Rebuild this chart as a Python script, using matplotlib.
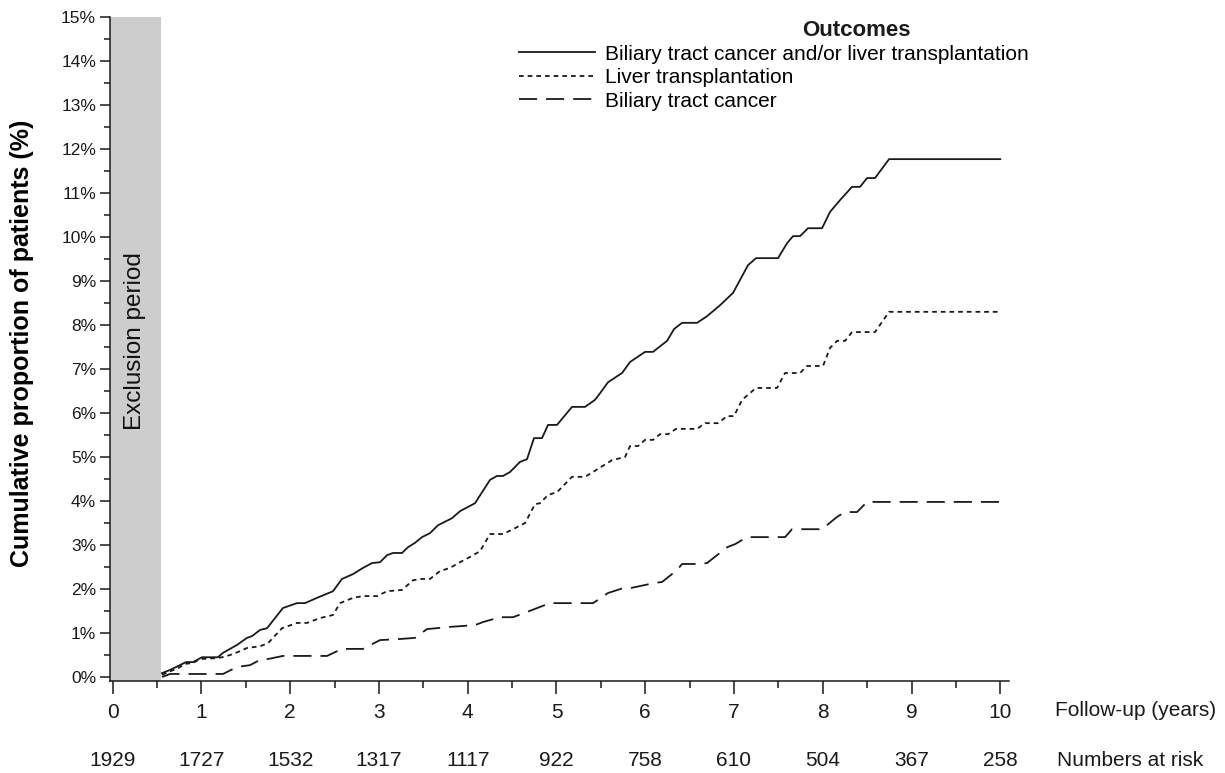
import matplotlib
matplotlib.use('Agg')
import matplotlib.pyplot as plt
from matplotlib.ticker import MultipleLocator, FuncFormatter

plt.rcParams['font.family'] = ['Liberation Sans', 'DejaVu Sans']

# cumulative incidence (%)
years_combined = [0.556, 0.646, 0.736, 0.826, 0.905, 1.006, 1.186, 1.243, 1.401, 1.513, 1.570, 1.660,
                  1.739, 1.829, 1.919, 2.020, 2.077, 2.167, 2.302, 2.482, 2.584, 2.708, 2.820, 2.922,
                  3.012, 3.091, 3.158, 3.260, 3.327, 3.406, 3.485, 3.575, 3.665, 3.823, 3.913, 4.082,
                  4.251, 4.330, 4.398, 4.477, 4.589, 4.668, 4.747, 4.837, 4.905, 5.006, 5.175, 5.322,
                  5.434, 5.491, 5.581, 5.739, 5.829, 5.998, 6.088, 6.246, 6.325, 6.415, 6.584, 6.696,
                  6.843, 6.989, 7.158, 7.248, 7.496, 7.598, 7.665, 7.744, 7.834, 7.992, 8.082, 8.195,
                  8.330, 8.420, 8.499, 8.589, 8.747, 10.0]
pct_combined = [0.09, 0.16, 0.25, 0.34, 0.34, 0.45, 0.45, 0.55, 0.73, 0.89, 0.93, 1.07,
                1.11, 1.34, 1.57, 1.64, 1.68, 1.68, 1.80, 1.95, 2.23, 2.34, 2.48, 2.59,
                2.61, 2.77, 2.82, 2.82, 2.95, 3.05, 3.18, 3.27, 3.45, 3.61, 3.77, 3.95,
                4.48, 4.57, 4.57, 4.66, 4.89, 4.95, 5.43, 5.43, 5.73, 5.73, 6.14, 6.14,
                6.30, 6.45, 6.70, 6.91, 7.16, 7.39, 7.39, 7.64, 7.91, 8.05, 8.05, 8.20,
                8.45, 8.73, 9.36, 9.52, 9.52, 9.86, 10.02, 10.02, 10.20, 10.20, 10.57, 10.84,
                11.14, 11.14, 11.34, 11.34, 11.77, 11.77]

years_lt = [0.556, 0.623, 0.736, 0.815, 0.905, 0.984, 1.175, 1.232, 1.322, 1.412, 1.513, 1.660,
            1.750, 1.908, 2.077, 2.189, 2.336, 2.482, 2.561, 2.708, 2.820, 2.978, 3.091, 3.260,
            3.384, 3.485, 3.575, 3.688, 3.801, 3.913, 4.026, 4.139, 4.251, 4.398, 4.510, 4.646,
            4.758, 4.815, 4.905, 5.006, 5.175, 5.322, 5.412, 5.626, 5.772, 5.829, 5.919, 5.998,
            6.088, 6.167, 6.257, 6.347, 6.584, 6.674, 6.820, 6.922, 7.000, 7.091, 7.248, 7.485,
            7.575, 7.744, 7.823, 8.003, 8.082, 8.161, 8.251, 8.330, 8.589, 8.747, 10.0]
pct_lt = [0.05, 0.11, 0.20, 0.30, 0.32, 0.41, 0.43, 0.45, 0.50, 0.57, 0.66, 0.70,
          0.77, 1.11, 1.23, 1.23, 1.34, 1.41, 1.68, 1.80, 1.84, 1.84, 1.95, 1.98,
          2.20, 2.23, 2.23, 2.41, 2.48, 2.61, 2.73, 2.86, 3.25, 3.25, 3.36, 3.50,
          3.93, 3.95, 4.14, 4.20, 4.55, 4.55, 4.66, 4.93, 5.00, 5.25, 5.25, 5.39,
          5.39, 5.52, 5.52, 5.64, 5.64, 5.77, 5.77, 5.93, 5.93, 6.30, 6.57, 6.57,
          6.91, 6.91, 7.07, 7.07, 7.48, 7.64, 7.64, 7.84, 7.84, 8.30, 8.30]

years_btc = [0.556, 0.646, 1.243, 1.401, 1.547, 1.660, 1.750, 1.919, 2.415, 2.584, 2.820, 3.012,
             3.203, 3.406, 3.541, 3.801, 4.082, 4.172, 4.364, 4.510, 4.668, 4.927, 5.412, 5.581,
             5.750, 5.829, 6.110, 6.189, 6.358, 6.415, 6.595, 6.696, 6.922, 7.012, 7.147, 7.575,
             7.654, 7.992, 8.161, 8.251, 8.386, 8.499, 10.0]
pct_btc = [0.0, 0.07, 0.07, 0.23, 0.27, 0.39, 0.41, 0.48, 0.48, 0.64, 0.64, 0.84,
           0.86, 0.89, 1.09, 1.14, 1.18, 1.25, 1.36, 1.36, 1.48, 1.68, 1.68, 1.91,
           2.02, 2.02, 2.14, 2.16, 2.43, 2.57, 2.57, 2.59, 2.95, 3.02, 3.18, 3.18,
           3.36, 3.36, 3.64, 3.75, 3.75, 3.98, 3.98]

follow_up_years = list(range(11))
numbers_at_risk = [1929, 1727, 1532, 1317, 1117, 922, 758, 610, 504, 367, 258]
exclusion_end = 0.54

fig = plt.figure(figsize=(12.25, 7.73), dpi=100)
ax = fig.add_axes([0.0898, 0.119, 0.734, 0.859])

ax.axvspan(-0.03, exclusion_end, color='#cdcdcd', lw=0, zorder=0)
ax.text(exclusion_end / 2 - 0.02, 7.64, 'Exclusion period', rotation=90, ha='center', va='center',
        fontsize=17.5, color='#111111')

l1, = ax.plot(years_combined, pct_combined, color='#1a1a1a', lw=1.3, linestyle='-')
l2, = ax.plot(years_lt, pct_lt, color='#1a1a1a', lw=1.3, linestyle=(0, (2.6, 2.2)))
l3, = ax.plot(years_btc, pct_btc, color='#1a1a1a', lw=1.3, linestyle=(0, (10, 5)))

ax.set_xlim(-0.03, 10.1)
ax.set_ylim(-0.09, 15)
ax.spines['top'].set_visible(False)
ax.spines['right'].set_visible(False)
ax.spines['left'].set_bounds(-0.09, 15)
for s in ('left', 'bottom'):
    ax.spines[s].set_linewidth(1.1)
    ax.spines[s].set_color('#1a1a1a')

ax.set_xticks(follow_up_years)
ax.set_xticklabels([str(v) for v in follow_up_years])
ax.xaxis.set_minor_locator(MultipleLocator(0.5))
ax.yaxis.set_major_locator(MultipleLocator(1))
ax.yaxis.set_minor_locator(MultipleLocator(0.5))
ax.yaxis.set_major_formatter(FuncFormatter(lambda v, p: f'{int(round(v))}%'))
ax.tick_params(axis='x', which='major', length=9, width=1.1, pad=7, labelsize=15, colors='#1a1a1a')
ax.tick_params(axis='x', which='minor', length=5, width=1.1, colors='#1a1a1a')
ax.tick_params(axis='y', which='major', length=7, width=1.1, pad=3, labelsize=12.5, colors='#1a1a1a')
ax.tick_params(axis='y', which='minor', length=4, width=1.1, colors='#1a1a1a')

ax.set_ylabel('Cumulative proportion of patients (%)', fontsize=18, fontweight='bold')
ax.yaxis.set_label_coords(-0.0845, 0.509)

xform = ax.get_xaxis_transform()
for x, n in zip(follow_up_years, numbers_at_risk):
    ax.text(x, -0.1204, str(n), transform=xform, ha='center', va='center', fontsize=15,
            color='#1a1a1a')
ax.text(10.62, -0.045, 'Follow-up (years)', transform=xform, ha='left', va='center', fontsize=15,
        color='#1a1a1a')
ax.text(10.64, -0.1204, 'Numbers at risk', transform=xform, ha='left', va='center', fontsize=15,
        color='#1a1a1a')

leg = ax.legend([l1, l2, l3],
                ['Biliary tract cancer and/or liver transplantation', 'Liver transplantation',
                 'Biliary tract cancer'],
                loc='upper left', bbox_to_anchor=(519 / 1225, 1 - 44.5 / 773),
                bbox_transform=fig.transFigure, frameon=False, fontsize=15,
                handlelength=3.65, handletextpad=0.5, labelspacing=0.22,
                borderpad=0, borderaxespad=0)
fig.text(856 / 1225, 1 - 30 / 773, 'Outcomes', ha='center', va='center', fontsize=16,
         fontweight='bold', color='#1a1a1a')

fig.savefig('out.png', dpi=100)
